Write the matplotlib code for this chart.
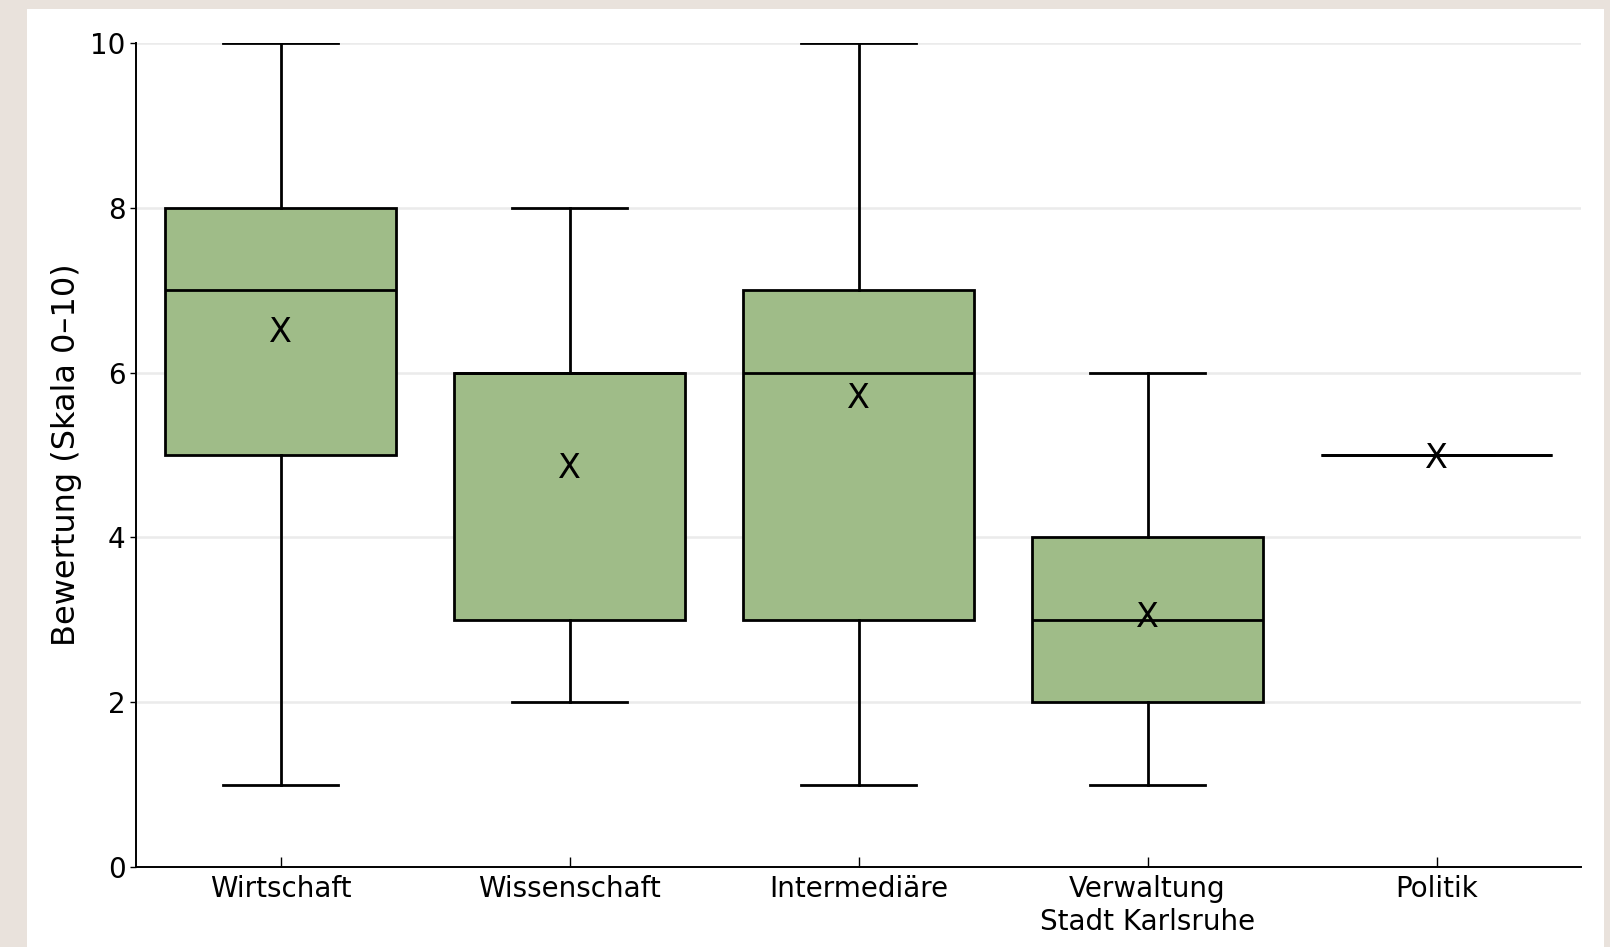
import matplotlib
matplotlib.use("Agg")
import matplotlib.pyplot as plt
from matplotlib.patches import Rectangle

categories = ["Wirtschaft", "Wissenschaft", "Intermediäre", "Verwaltung\nStadt Karlsruhe", "Politik"]
q1 = [5, 3, 3, 2, 5]
median = [7, 6, 6, 3, 5]
q3 = [8, 6, 7, 4, 5]
whislo = [1, 2, 1, 1, 5]
whishi = [10, 8, 10, 6, 5]
means = [6.53, 4.88, 5.73, 3.07, 5.0]

stats = []
for i, name in enumerate(categories):
    stats.append({"label": name, "q1": q1[i], "med": median[i], "q3": q3[i],
                  "whislo": whislo[i], "whishi": whishi[i], "mean": means[i], "fliers": []})

fig = plt.figure(figsize=(16.1, 9.47), dpi=100, facecolor="#e9e2dc")

# white panel behind the plot
bg = fig.add_axes([0, 0, 1, 1], zorder=-1)
bg.axis("off")
bg.add_patch(Rectangle((27 / 1610, 0), (1604 - 27) / 1610, 1 - 9 / 947,
                       transform=bg.transAxes, facecolor="white", edgecolor="none"))

ax = fig.add_axes([136 / 1610, 80 / 947, (1581 - 136) / 1610, (867 - 43) / 947], zorder=1)
ax.set_facecolor("none")

lw = 2.0
ax.bxp(stats, positions=range(1, 6), widths=0.8, patch_artist=True, showfliers=False,
       boxprops=dict(facecolor="#9fbc88", edgecolor="black", linewidth=lw),
       medianprops=dict(color="black", linewidth=lw),
       whiskerprops=dict(color="black", linewidth=lw),
       capprops=dict(color="black", linewidth=lw), zorder=3)

for i, m in enumerate(means):
    ax.text(i + 1, m, "X", ha="center", va="center_baseline", fontsize=24, zorder=5)

ax.set_xlim(0.5, 5.5)
ax.set_ylim(0, 10)
ax.set_yticks([0, 2, 4, 6, 8, 10])
ax.yaxis.grid(True, color="#ebebeb", linewidth=1.8, zorder=0)
ax.set_axisbelow(True)
ax.set_ylabel("Bewertung (Skala 0–10)", fontsize=23, labelpad=6)

for s in ["top", "right"]:
    ax.spines[s].set_visible(False)
for s in ["left", "bottom"]:
    ax.spines[s].set_linewidth(1.4)
ax.tick_params(axis="y", direction="out", length=4, labelsize=20, width=1)
ax.tick_params(axis="x", direction="in", length=7, labelsize=20, width=1, pad=6)

fig.savefig("out.png", dpi=100, facecolor=fig.get_facecolor())
